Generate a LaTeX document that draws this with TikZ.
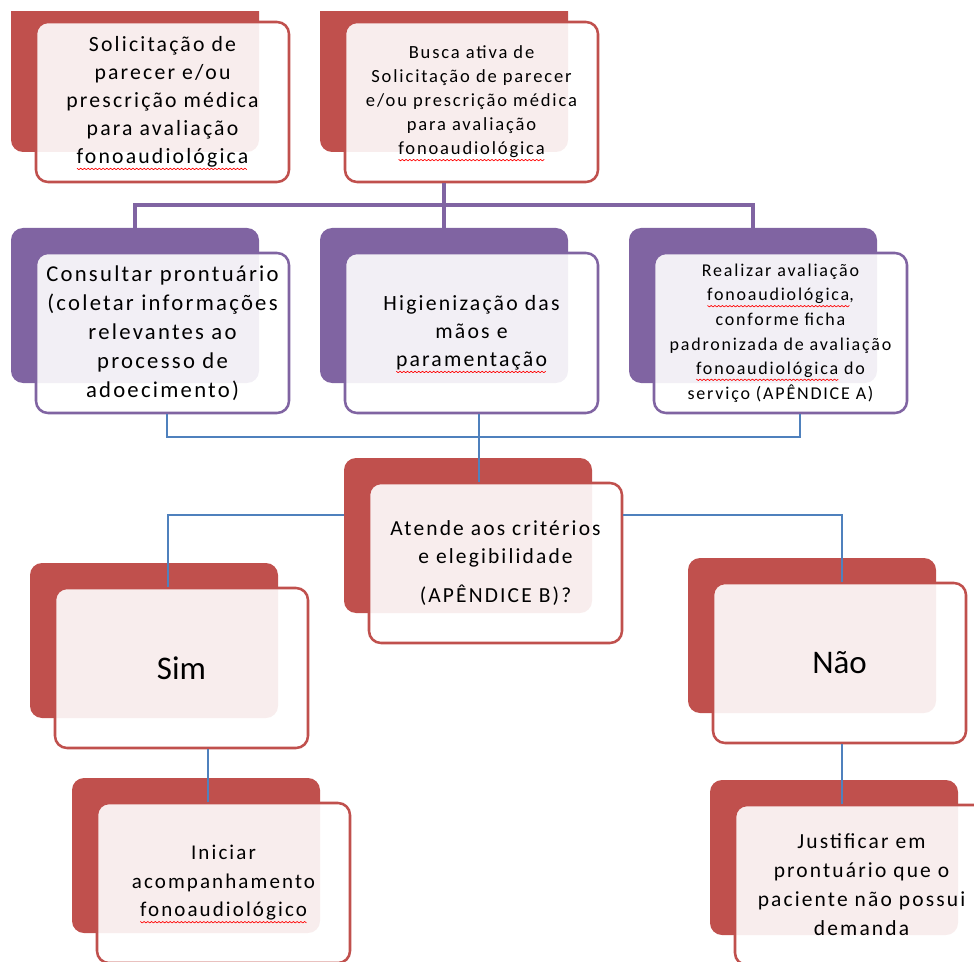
\documentclass[tikz,border=0pt]{standalone}
\usepackage{fontspec}
\setmainfont{Carlito}[LetterSpace=10]
\newfontfamily\plainfont{Carlito}
\newsavebox\sqbox
\newcommand\sq[1]{\sbox\sqbox{#1}\rlap{\smash{\tikz[baseline=0pt,x=1pt,y=1pt,sharp corners]{%
  \pgfmathtruncatemacro\nseg{\wd\sqbox/1.4}%
  \draw[red, line width=0.5pt, line join=round, sharp corners] (0,-3.4) \foreach \i in {1,...,\nseg} { -- ({\i*1.4}, {-3.4+ifthenelse(mod(\i,2)==0,0,-1.1)}) };}}}\usebox\sqbox}
\definecolor{cred}{HTML}{C0504D}
\definecolor{cpur}{HTML}{8064A2}
\definecolor{cblue}{HTML}{4F81BD}
\tikzset{
  backbox/.style={rectangle, rounded corners=9pt, minimum width=186pt, minimum height=116.25pt, inner sep=0pt, draw=none},
  frontbox/.style={rectangle, rounded corners=9pt, minimum width=189.75pt, minimum height=120pt, inner sep=0pt, fill=white, fill opacity=0.9, text opacity=1, line width=1.9pt, align=center, text=black},
  redb/.style={backbox, fill=cred},
  purb/.style={backbox, fill=cpur},
  redf/.style={frontbox, draw=cred},
  purf/.style={frontbox, draw=cpur},
  pconn/.style={draw=cpur, line width=2.3pt},
  bconn/.style={draw=cblue, line width=1.1pt},
}
\begin{document}
\begin{tikzpicture}[x=0.75pt, y=-0.75pt]
\useasboundingbox (0,0) rectangle (974,962);
\clip (0,0) rectangle (974,962);
% top row backs (cut at top)
\begin{scope}
  \clip (0,12) rectangle (974,962);
  \node[redb] (b1b) at (135,74.5) {};
  \node[redb] (b2b) at (444,74.5) {};
\end{scope}
\node[redf, font=\fontsize{16.3}{21}\selectfont] (b1f) at (162.5,102)
  {Solicitação de\\parecer e/ou\\prescrição médica\\para avaliação\\\sq{fonoaudiológica}};
\node[redf, font=\fontsize{13.9}{18}\selectfont] (b2f) at (471.5,102)
  {Busca ativa de\\Solicitação de parecer\\e/ou prescrição médica\\para avaliação\\\sq{fonoaudiológica}};
% purple row
\node[purb] (p1b) at (135,305.5) {};
\node[purf, font=\fontsize{17}{21.75}\selectfont] (p1f) at (162.5,333)
  {Consultar prontuário\\(coletar informações\\relevantes ao\\processo de\\adoecimento)};
\node[purb] (p2b) at (444,305.5) {};
\node[purf, font=\fontsize{16.3}{21}\selectfont] (p2f) at (471.5,333)
  {Higienização das\\mãos e\\\sq{paramentação}};
\node[purb] (p3b) at (753,305.5) {};
\node[purf, font=\fontsize{13.5}{18.4}\selectfont] (p3f) at (780.5,333)
  {Realizar avaliação\\\sq{fonoaudiológica},\\conforme ficha\\padronizada de avaliação\\\sq{fonoaudiológica} do\\serviço (APÊNDICE A)};
% decision
\node[redb] (db) at (468,535.5) {};
\node[redf, font=\fontsize{16.1}{21}\selectfont] (df) at (495.5,563)
  {Atende aos critérios\\e elegibilidade\\[8pt](APÊNDICE B)?};
% Sim / Não
\node[redb] (simb) at (154,640.5) {};
\node[redf, font=\plainfont\fontsize{24.75}{30}\selectfont] (simf) at (181.5,668) {Sim};
\node[redb] (naob) at (812,635.5) {};
\node[redf, font=\plainfont\fontsize{24.75}{30}\selectfont] (naof) at (839.5,663) {Não};
% bottom
\node[redb] (inib) at (196,855.5) {};
\node[redf, font=\fontsize{15.75}{21.4}\selectfont] (inif) at (223.5,883)
  {Iniciar\\acompanhamento\\\sq{fonoaudiológico}};
\node[redb] (jusb) at (834,857.5) {};
\node[redf, font=\fontsize{16.1}{21.75}\selectfont] (jusf) at (861.5,885)
  {Justificar em\\prontuário que o\\paciente não possui\\demanda};
% connectors
\coordinate (jp) at (444,205);
\draw[pconn] (b2f.south -| b2b.south) -- (jp);
\draw[pconn] (p1b.north) -- (p1b.north |- jp) -- (p3b.north |- jp) -- (p3b.north);
\draw[pconn] (jp) -- (p2b.north);
\coordinate (bl) at (167,437);
\coordinate (br) at (800,437);
\coordinate (bm) at (479,437);
\draw[bconn] (p1f.south -| bl) -- (bl) -- (br) -- (p3f.south -| br);
\draw[bconn] (p2f.south -| bm) -- (df.north -| bm);
\coordinate (sl) at (168,515);
\coordinate (sr) at (842,515);
\draw[bconn] (db.west |- sl) -- (sl) -- (simf.north -| sl);
\draw[bconn] (df.east |- sr) -- (sr) -- (naof.north -| sr);
\coordinate (si) at (208,780);
\coordinate (nj) at (842,780);
\draw[bconn] (simf.south -| si) -- (inif.north -| si);
\draw[bconn] (naof.south -| nj) -- (jusf.north -| nj);
\end{tikzpicture}
\end{document}
